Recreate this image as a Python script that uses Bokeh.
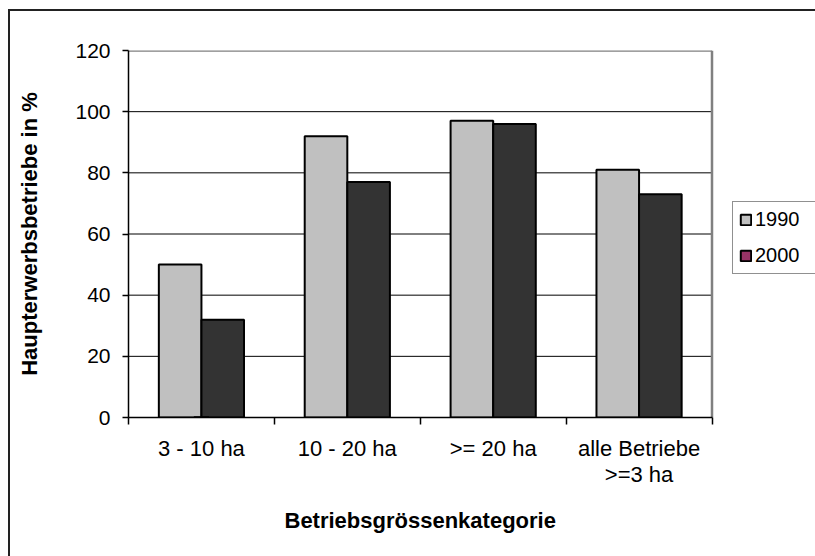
from bokeh.plotting import figure
from bokeh.models import (ColumnDataSource, Range1d, FixedTicker, Legend, LegendItem, Title)
from bokeh.transform import dodge
from bokeh.embed import file_html
from bokeh.resources import INLINE

# ---- data ----
categories = ["3 - 10 ha", "10 - 20 ha", ">= 20 ha", "alle Betriebe\n>=3 ha"]
values_1990 = [50, 92, 97, 81]
values_2000 = [32, 77, 96, 73]
years = ["1990", "2000"]
y_ticks = [0, 20, 40, 60, 80, 100, 120]
x_title = "Betriebsgrössenkategorie"
y_title = "Haupterwerbsbetriebe in %"

bar_colors = ["#C0C0C0", "#333333"]
legend_colors = ["#C0C0C0", "#993366"]
FONT = "Liberation Sans"

n = len(categories)
centers = [i + 0.5 for i in range(n)]
boundaries = list(range(n + 1))

W, H = 815, 556
FL, FT, FB, FR_PLOT = 128, 50, 417, 711.5     # frame left/top/bottom, plot-area right
x_end = n * (W - FL) / (FR_PLOT - FL)          # frame extends under the legend

src = ColumnDataSource(dict(x=centers, v1990=values_1990, v2000=values_2000))

p = figure(width=W, height=H, x_range=Range1d(0, x_end),
           y_range=Range1d(0, y_ticks[-1]), output_backend="svg", toolbar_location=None,
           min_border_left=FL, min_border_right=0, min_border_top=FT,
           min_border_bottom=H - FB)
p.border_fill_alpha = 0
p.background_fill_alpha = 0
p.styles = {
    "background-color": "white",
    "background-image": "linear-gradient(#222,#222), linear-gradient(#222,#222)",
    "background-size": "2px 560px, 820px 2px",
    "background-position": "8px 9px, 8px 9px",
    "background-repeat": "no-repeat",
}

# gridlines (only across the plot area)
grid_y = y_ticks[1:-1]
p.segment(x0=[0] * len(grid_y), x1=[n] * len(grid_y), y0=grid_y, y1=grid_y,
          line_color="black", line_width=1)
# plot-area border top / right
p.segment(x0=[0, n], x1=[n, n], y0=[y_ticks[-1], 0], y1=[y_ticks[-1], y_ticks[-1]],
          line_color="#808080", line_width=2.5)

bw = 0.292
p.vbar(x=dodge("x", -0.146, range=p.x_range), top="v1990", width=bw, source=src,
       fill_color=bar_colors[0], line_color="black", line_width=2)
p.vbar(x=dodge("x", 0.146, range=p.x_range), top="v2000", width=bw, source=src,
       fill_color=bar_colors[1], line_color="black", line_width=2)

# legend-only renderers (Excel legend colours), placed below the visible range
dummy = ColumnDataSource(dict(x=[centers[0]], top=[-10], bottom=[-10]))
r1 = p.vbar(x="x", top="top", bottom="bottom", width=0.1, source=dummy,
            fill_color=legend_colors[0], line_color="black", line_width=2)
r2 = p.vbar(x="x", top="top", bottom="bottom", width=0.1, source=dummy,
            fill_color=legend_colors[1], line_color="black", line_width=2)

legend = Legend(items=[LegendItem(label=years[0], renderers=[r1]),
                       LegendItem(label=years[1], renderers=[r2])],
                location=(604, 143), margin=0, padding=6, spacing=13,
                glyph_width=13, glyph_height=13, label_standoff=3, label_width=54,
                label_text_font=FONT, label_text_font_size="20px",
                label_text_color="black",
                border_line_color="#222222", border_line_width=1.5,
                background_fill_color="white", background_fill_alpha=1)
p.add_layout(legend)

# axes
p.yaxis.ticker = FixedTicker(ticks=y_ticks)
p.yaxis.minor_tick_line_color = None
p.yaxis.major_tick_out = 6
p.yaxis.major_tick_in = 0
p.yaxis.major_label_standoff = 12
p.yaxis.axis_line_color = "black"
p.yaxis.axis_line_width = 1.5
p.yaxis.major_tick_line_width = 1.5
p.yaxis.major_label_text_font = FONT
p.yaxis.major_label_text_font_size = "21px"
p.yaxis.major_label_text_color = "black"
p.yaxis.axis_label = y_title
p.yaxis.axis_label_text_font = FONT
p.yaxis.axis_label_text_font_size = "22px"
p.yaxis.axis_label_text_font_style = "bold"
p.yaxis.axis_label_text_color = "black"
p.yaxis.axis_label_standoff = 30

p.xaxis.bounds = (0, n)
p.xaxis.ticker = FixedTicker(ticks=centers, minor_ticks=boundaries)
p.xaxis.major_label_overrides = {c: lab for c, lab in zip(centers, categories)}
p.xaxis.major_tick_out = 0
p.xaxis.major_tick_in = 0
p.xaxis.minor_tick_out = 7
p.xaxis.minor_tick_in = 0
p.xaxis.minor_tick_line_color = "black"
p.xaxis.minor_tick_line_width = 1.5
p.xaxis.axis_line_color = "black"
p.xaxis.axis_line_width = 1.5
p.xaxis.major_label_standoff = 11
p.xaxis.major_label_text_font = FONT
p.xaxis.major_label_text_font_size = "22px"
p.xaxis.major_label_text_line_height = 1.05
p.xaxis.major_label_text_color = "black"
# blank spacer label to push the title (below) down a little
p.xaxis.axis_label = " "
p.xaxis.axis_label_text_font_size = "3px"
p.xaxis.axis_label_standoff = 4

p.grid.visible = False
p.outline_line_color = None

# x-axis title, centred under the plot area (not under the wider frame)
t = Title(text=x_title, align="left", offset=156,
          text_font=FONT, text_font_size="22px", text_font_style="bold",
          text_color="black")
p.add_layout(t, "below")

open("out.html", "w").write(file_html(p, INLINE))
